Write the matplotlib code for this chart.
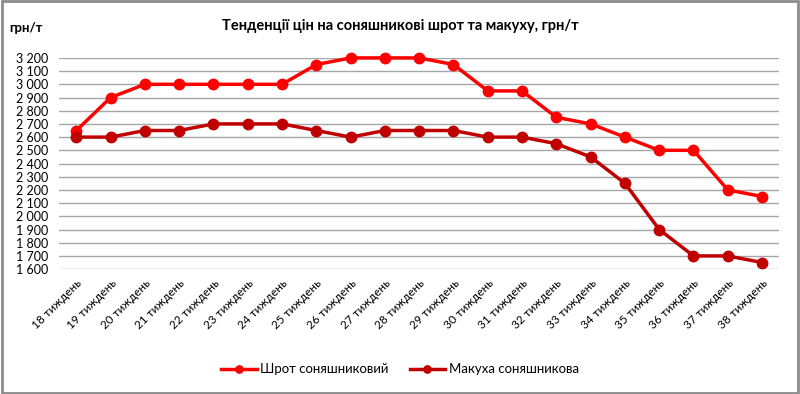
import matplotlib.pyplot as plt
from matplotlib.patches import Rectangle
from matplotlib.ticker import FuncFormatter

plt.rcParams['font.family'] = ['Lato', 'DejaVu Sans']

weeks = [f'{w} тиждень' for w in range(18, 39)]
shrot = [2650, 2900, 3000, 3000, 3000, 3000, 3000, 3150, 3200, 3200, 3200,
         3150, 2950, 2950, 2750, 2700, 2600, 2500, 2500, 2200, 2150]
makukha = [2600, 2600, 2650, 2650, 2700, 2700, 2700, 2650, 2600, 2650, 2650,
           2650, 2600, 2600, 2550, 2450, 2250, 1900, 1700, 1700, 1650]

fig = plt.figure(figsize=(8, 3.94), dpi=100)
ax = fig.add_axes([0.074, 0.317, 0.9, 0.536])

x = range(len(weeks))
ax.plot(x, shrot, color='#FF0000', lw=2.5, marker='o', ms=7.5,
        label='Шрот соняшниковий', clip_on=False, zorder=3)
ax.plot(x, makukha, color='#C00000', lw=2.5, marker='o', ms=7.5,
        label='Макуха соняшникова', clip_on=False, zorder=3)

ax.set_xlim(-0.5, len(weeks) - 0.5)
ax.set_ylim(1600, 3200)
ax.set_yticks(range(1600, 3201, 100))
ax.yaxis.set_major_formatter(FuncFormatter(lambda v, p: f'{int(v):,}'.replace(',', ' ')))
ax.set_xticks(list(x))
ax.set_xticklabels(weeks, rotation=45, ha='right', rotation_mode='anchor', fontsize=8.5)
ax.tick_params(axis='y', labelsize=9, length=0, pad=8)
ax.tick_params(axis='x', length=0, pad=6)
ax.grid(axis='y', color='#A6A6A6', lw=1)
ax.set_axisbelow(True)
for s in ax.spines.values():
    s.set_visible(False)

fig.text(0.5, 0.935, 'Тенденції цін на соняшникові шрот та макуху, грн/т',
         ha='center', va='center', fontsize=10.5, fontweight='bold')
fig.text(0.012, 0.93, 'грн/т', ha='left', va='center', fontsize=9.5, fontweight='bold')

fig.legend(loc='center', bbox_to_anchor=(0.5, 0.063), ncol=2, frameon=False,
           fontsize=9.5, columnspacing=1.6, handlelength=2.7, handletextpad=0.25,
           markerscale=0.7)

fig.patches.append(Rectangle((0.002, 0.003), 0.996, 0.994, transform=fig.transFigure,
                             fill=False, edgecolor='#8C8C8C', lw=2))

fig.savefig('out.png', dpi=100)
